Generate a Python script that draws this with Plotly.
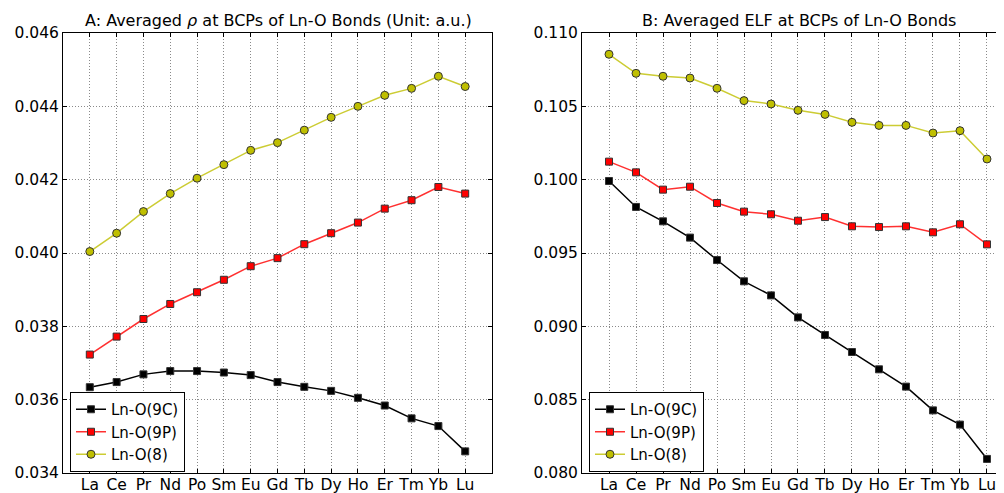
import plotly.graph_objects as go

categories = ["La", "Ce", "Pr", "Nd", "Po", "Sm", "Eu", "Gd", "Tb", "Dy", "Ho", "Er", "Tm", "Yb", "Lu"]

rho_9C = [0.03634, 0.03648, 0.03669, 0.03678, 0.03678, 0.03674, 0.03667, 0.03648,
          0.03635, 0.03624, 0.03605, 0.03584, 0.03549, 0.03528, 0.03459]
rho_9P = [0.03723, 0.03772, 0.03820, 0.03861, 0.03893, 0.03927, 0.03964, 0.03986,
          0.04024, 0.04054, 0.04083, 0.04121, 0.04144, 0.04180, 0.04162]
rho_8 = [0.04004, 0.04054, 0.04113, 0.04162, 0.04204, 0.04241, 0.04280, 0.04301,
         0.04335, 0.04370, 0.04400, 0.04430, 0.04449, 0.04482, 0.04454]

elf_9C = [0.09991, 0.09814, 0.09716, 0.09605, 0.09452, 0.09307, 0.09211, 0.09061,
          0.08941, 0.08825, 0.08707, 0.08589, 0.08427, 0.08330, 0.08096]
elf_9P = [0.10123, 0.10050, 0.09932, 0.09952, 0.09841, 0.09782, 0.09764, 0.09720,
          0.09745, 0.09682, 0.09677, 0.09682, 0.09641, 0.09696, 0.09559]
elf_8 = [0.10855, 0.10725, 0.10705, 0.10693, 0.10623, 0.10539, 0.10516, 0.10473,
         0.10445, 0.10391, 0.10370, 0.10370, 0.10318, 0.10334, 0.10141]

rho_ticks = [0.034, 0.036, 0.038, 0.040, 0.042, 0.044, 0.046]
elf_ticks = [0.080, 0.085, 0.090, 0.095, 0.100, 0.105, 0.110]

series_names = ["Ln-O(9C)", "Ln-O(9P)", "Ln-O(8)"]
line_colors = ["#000000", "#ff3030", "#cccc33"]
marker_colors = ["#000000", "#ff0000", "#bfbf00"]
symbols = ["square", "square", "circle"]

# page has an 8px body margin; compensate so the plot areas land where the reference has them
OFF = 8
W, H = 1004 - OFF, 493 - OFF
L, R, T, B = 63 - OFF, 0, 33 - OFF, 20
plot_w = W - L - R
plot_h = H - T - B
x1_end = (492 - 63) / plot_w
x2_start = (582 - 63) / plot_w

fig = go.Figure()

for data_set, xa, ya, leg in [((rho_9C, rho_9P, rho_8), "x", "y", "legend"),
                              ((elf_9C, elf_9P, elf_8), "x2", "y2", "legend2")]:
    for vals, name, lc, mc, sym in zip(data_set, series_names, line_colors, marker_colors, symbols):
        fig.add_trace(go.Scatter(
            x=categories, y=vals, name=name, mode="lines+markers",
            xaxis=xa, yaxis=ya, legend=leg,
            line=dict(color=lc, width=1.5),
            marker=dict(symbol=sym, size=7 if sym == "square" else 8, color=mc,
                        line=dict(color="#333333", width=1)),
        ))

axis_common = dict(
    showline=True, linecolor="black", linewidth=1,
    ticks="inside", ticklen=4, tickcolor="black",
    showgrid=True, gridcolor="#8a8a8a", griddash="1px,2px", gridwidth=1,
    zeroline=False, automargin=False,
    tickfont=dict(family="DejaVu Sans", size=15.5, color="black"),
)

legend_common = dict(
    xanchor="left", yanchor="top",
    bordercolor="black", borderwidth=1, bgcolor="white",
    font=dict(family="DejaVu Sans", size=15, color="black"),
)

fig.update_layout(
    width=W, height=H,
    margin=dict(l=L, r=R, t=T, b=B),
    paper_bgcolor="white", plot_bgcolor="white",
    font=dict(family="DejaVu Sans", color="black"),
    xaxis=dict(domain=[0, x1_end], range=[-1, 15], mirror="ticks", type="category",
               ticklabelstandoff=-3, **axis_common),
    yaxis=dict(range=[0.034, 0.046], tickvals=rho_ticks, tickformat=".3f", mirror="ticks", **axis_common),
    xaxis2=dict(domain=[x2_start, 1], range=[-1, 14.63], mirror="ticks", type="category",
                anchor="y2", ticklabelstandoff=-3, **axis_common),
    yaxis2=dict(range=[0.080, 0.110], tickvals=elf_ticks, tickformat=".3f", anchor="x2",
                mirror=False, **axis_common),
    legend=dict(x=(70 - 63) / plot_w, y=(473 - 392) / plot_h, **legend_common),
    legend2=dict(x=(589 - 63) / plot_w, y=(473 - 392) / plot_h, **legend_common),
    annotations=[
        dict(text="A: Averaged <i>ρ</i> at BCPs of Ln-O Bonds (Unit: a.u.)", xref="paper", yref="paper",
             x=(278 - 63) / plot_w, y=1.0, xanchor="center", yanchor="bottom", yshift=1,
             showarrow=False, font=dict(family="DejaVu Sans", size=16, color="black")),
        dict(text="B: Averaged ELF at BCPs of Ln-O Bonds", xref="paper", yref="paper",
             x=(799 - 63) / plot_w, y=1.0, xanchor="center", yanchor="bottom", yshift=1,
             showarrow=False, font=dict(family="DejaVu Sans", size=16, color="black")),
    ],
)

fig.write_html("out.html")
